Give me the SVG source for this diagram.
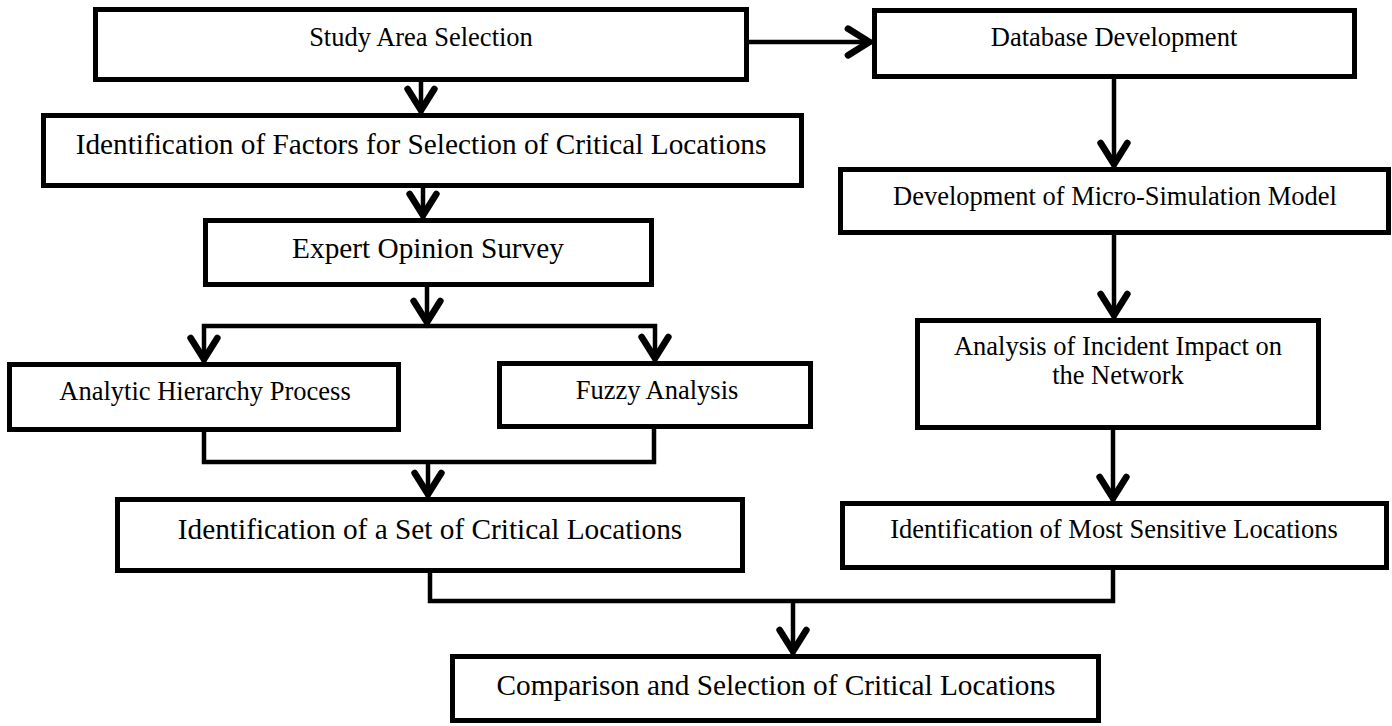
<svg xmlns="http://www.w3.org/2000/svg" width="1392" height="726" viewBox="0 0 1392 726">
<style>
.box{fill:#fff;stroke:#000;stroke-width:5}
.t{font-family:"Liberation Serif","Times New Roman",serif;fill:#000;text-anchor:middle}
.s{font-size:26.5px}
.l{font-size:29.3px}
.c{fill:none;stroke:#000;stroke-width:4.5}
.a{marker-end:url(#arr)}
</style>
<defs>
<marker id="arr" markerUnits="userSpaceOnUse" orient="auto" refX="2" refY="0" markerWidth="40" markerHeight="40" viewBox="-20 -15 25 30" overflow="visible">
<path d="M-16,-10 L0,0 L-16,10" fill="none" stroke="#000" stroke-width="5" stroke-linecap="round" stroke-linejoin="miter"/>
</marker>
</defs>
<rect width="1392" height="726" fill="#fff"/>
<g id="connectors">
<path class="c a" d="M421,82 V113"/>
<path class="c a" d="M749,42 H872"/>
<path class="c a" d="M423,188 V218"/>
<path class="c a" d="M427,287 V325"/>
<path class="c a" d="M427,326 H204 V362"/>
<path class="c a" d="M427,326 H655 V361"/>
<path class="c" d="M204,432 V462 H654 V429"/>
<path class="c a" d="M428,462 V497"/>
<path class="c a" d="M1114,79 V167"/>
<path class="c a" d="M1114,235 V318"/>
<path class="c a" d="M1113,430 V501"/>
<path class="c" d="M430,573 V601 H1113 V570"/>
<path class="c a" d="M793,601 V654"/>
</g>
<g id="study-area">
<rect class="box" x="95.5" y="9.5" width="651" height="70"/>
<text class="t s" x="421" y="46">Study Area Selection</text>
</g>
<g id="database">
<rect class="box" x="874.5" y="10.5" width="480" height="66"/>
<text class="t s" x="1114" y="46">Database Development</text>
</g>
<g id="factors">
<rect class="box" x="43.5" y="115.5" width="758" height="70"/>
<text class="t l" x="421" y="154">Identification of Factors for Selection of Critical Locations</text>
</g>
<g id="expert">
<rect class="box" x="205.5" y="220.5" width="446" height="64"/>
<text class="t l" x="428" y="258">Expert Opinion Survey</text>
</g>
<g id="ahp">
<rect class="box" x="9.5" y="364.5" width="389" height="65"/>
<text class="t s" x="205" y="400">Analytic Hierarchy Process</text>
</g>
<g id="fuzzy">
<rect class="box" x="499.5" y="363.5" width="311" height="63"/>
<text class="t s" x="657" y="399">Fuzzy Analysis</text>
</g>
<g id="micro-sim">
<rect class="box" x="840.5" y="169.5" width="548" height="63"/>
<text class="t s" x="1115" y="205">Development of Micro-Simulation Model</text>
</g>
<g id="incident">
<rect class="box" x="917.5" y="320.5" width="401" height="107"/>
<text class="t s" x="1118" y="355">Analysis of Incident Impact on</text>
<text class="t s" x="1118" y="384">the Network</text>
</g>
<g id="set-critical">
<rect class="box" x="117.5" y="499.5" width="625" height="71"/>
<text class="t l" x="430" y="539">Identification of a Set of Critical Locations</text>
</g>
<g id="most-sensitive">
<rect class="box" x="842.5" y="503.5" width="544" height="64"/>
<text class="t s" x="1114" y="538">Identification of Most Sensitive Locations</text>
</g>
<g id="comparison">
<rect class="box" x="452.5" y="656.5" width="646" height="64"/>
<text class="t l" x="776" y="695">Comparison and Selection of Critical Locations</text>
</g>
</svg>
